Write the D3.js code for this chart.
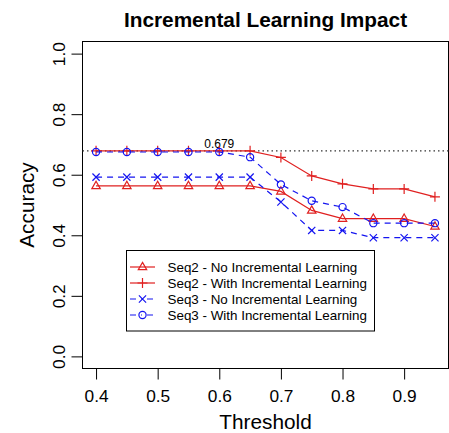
<!DOCTYPE html>
<html><head><meta charset="utf-8">
<script src="https://cdn.jsdelivr.net/npm/d3@7"></script>
<style>body{margin:0;background:#fff}svg{display:block}text{font-family:"Liberation Sans",Arial,Helvetica,sans-serif}</style>
</head><body>
<svg id="c" width="449" height="433"></svg>
<script>
const thresholds = [0.4,0.45,0.5,0.55,0.6,0.65,0.7,0.75,0.8,0.85,0.9,0.95];
const seq2NoIL   = [0.563,0.563,0.563,0.563,0.563,0.563,0.545,0.482,0.455,0.455,0.455,0.429];
const seq2WithIL = [0.679,0.679,0.679,0.679,0.679,0.679,0.657,0.596,0.570,0.553,0.553,0.527];
const seq3NoIL   = [0.592,0.592,0.592,0.592,0.592,0.592,0.510,0.416,0.416,0.392,0.392,0.392];
const seq3WithIL = [0.675,0.675,0.675,0.675,0.675,0.658,0.568,0.514,0.493,0.440,0.440,0.440];
const seriesNames = ["Seq2 - No Incremental Learning","Seq2 - With Incremental Learning","Seq3 - No Incremental Learning","Seq3 - With Incremental Learning"];
const xTicks = [0.4,0.5,0.6,0.7,0.8,0.9];
const yTicks = [0.0,0.2,0.4,0.6,0.8,1.0];
const refValue = 0.679;

const RED = "#e02020", BLUE = "#1515f0";
const series = [
  {name: seriesNames[0], values: seq2NoIL, color: RED, dash: null, shape: "tri"},
  {name: seriesNames[1], values: seq2WithIL, color: RED, dash: null, shape: "plus"},
  {name: seriesNames[2], values: seq3NoIL, color: BLUE, dash: "6,5", shape: "x"},
  {name: seriesNames[3], values: seq3WithIL, color: BLUE, dash: "6,5", shape: "circle"}
];

const L = 82.5, R = 448.5, T = 41.5, B = 368.5;
const svg = d3.select("#c");
const x = d3.scaleLinear().domain([0.4 - 0.022, 0.95 + 0.022]).range([L, R]);
const y = d3.scaleLinear().domain([-0.04, 1.04]).range([B, T]);

// title
svg.append("text").attr("x", (L + R) / 2).attr("y", 27).attr("text-anchor", "middle")
  .attr("font-size", 20.8).attr("font-weight", "bold").text("Incremental Learning Impact");

// axes
const xa = svg.append("g").attr("transform", `translate(0,${B})`)
  .call(d3.axisBottom(x).tickValues(xTicks).tickSize(11).tickFormat(d3.format(".1f")));
xa.select(".domain").remove();
xa.selectAll("line").attr("stroke", "#000");
xa.selectAll("text").attr("font-size", 17.3).attr("fill", "#000").attr("dy", 0).attr("y", 33);

const ya = svg.append("g").attr("transform", `translate(${L},0)`)
  .call(d3.axisLeft(y).tickValues(yTicks).tickSize(11).tickFormat(d3.format(".1f")));
ya.select(".domain").remove();
ya.selectAll("line").attr("stroke", "#000");
ya.selectAll("text").attr("font-size", 17.3).attr("fill", "#000")
  .attr("transform", "rotate(-90)").attr("x", 0).attr("y", -17.5).attr("dy", 0)
  .attr("text-anchor", "middle");

svg.append("text").attr("x", (L + R) / 2).attr("y", 429).attr("text-anchor", "middle")
  .attr("font-size", 20.8).text("Threshold");
svg.append("text").attr("transform", `translate(34,${(T + B) / 2}) rotate(-90)`)
  .attr("text-anchor", "middle").attr("font-size", 20.8).text("Accuracy");

// box
svg.append("rect").attr("x", L).attr("y", T).attr("width", R - L).attr("height", B - T)
  .attr("fill", "none").attr("stroke", "#000").attr("stroke-width", 1);

// reference line
svg.append("line").attr("x1", L).attr("x2", R).attr("y1", y(refValue)).attr("y2", y(refValue))
  .attr("stroke", "#333").attr("stroke-width", 1.3).attr("stroke-dasharray", "1.5,3");
svg.append("text").attr("x", x(0.6)).attr("y", y(refValue) - 2.5).attr("text-anchor", "middle")
  .attr("font-size", 12).text(refValue.toFixed(3));

function marker(g, shape, cx, cy, color) {
  const s = g.append("g").attr("transform", `translate(${cx},${cy})`)
    .attr("fill", "none").attr("stroke", color).attr("stroke-width", 1.2);
  if (shape === "tri") s.append("path").attr("d", "M0,-4.6L4.2,2.7L-4.2,2.7Z");
  else if (shape === "plus") s.append("path").attr("d", "M-5,0H5M0,-5V5");
  else if (shape === "x") s.append("path").attr("d", "M-3.6,-3.6L3.6,3.6M-3.6,3.6L3.6,-3.6");
  else s.append("circle").attr("r", 3.6);
}

const line = d3.line().x(d => x(d[0])).y(d => y(d[1]));
series.forEach(s => {
  const pts = thresholds.map((t, i) => [t, s.values[i]]);
  const g = svg.append("g");
  g.append("path").attr("d", line(pts)).attr("fill", "none").attr("stroke", s.color)
    .attr("stroke-width", 1.2).attr("stroke-dasharray", s.dash);
  pts.forEach(p => marker(g, s.shape, x(p[0]), y(p[1]), s.color));
});

// legend
const lg = svg.append("g");
lg.append("rect").attr("x", 126.5).attr("y", 250.5).attr("width", 248).attr("height", 80.5)
  .attr("fill", "#fff").attr("stroke", "#000").attr("stroke-width", 1);
series.forEach((s, i) => {
  const cy = 267 + i * 16;
  lg.append("line").attr("x1", 130).attr("x2", 155).attr("y1", cy).attr("y2", cy)
    .attr("stroke", s.color).attr("stroke-width", 1.2).attr("stroke-dasharray", s.dash ? "6,5,1,5" : null);
  marker(lg, s.shape, 142.5, cy, s.color);
  lg.append("text").attr("x", 167.5).attr("y", cy + 4.8).attr("font-size", 13.4).text(s.name);
});
</script>
</body></html>
